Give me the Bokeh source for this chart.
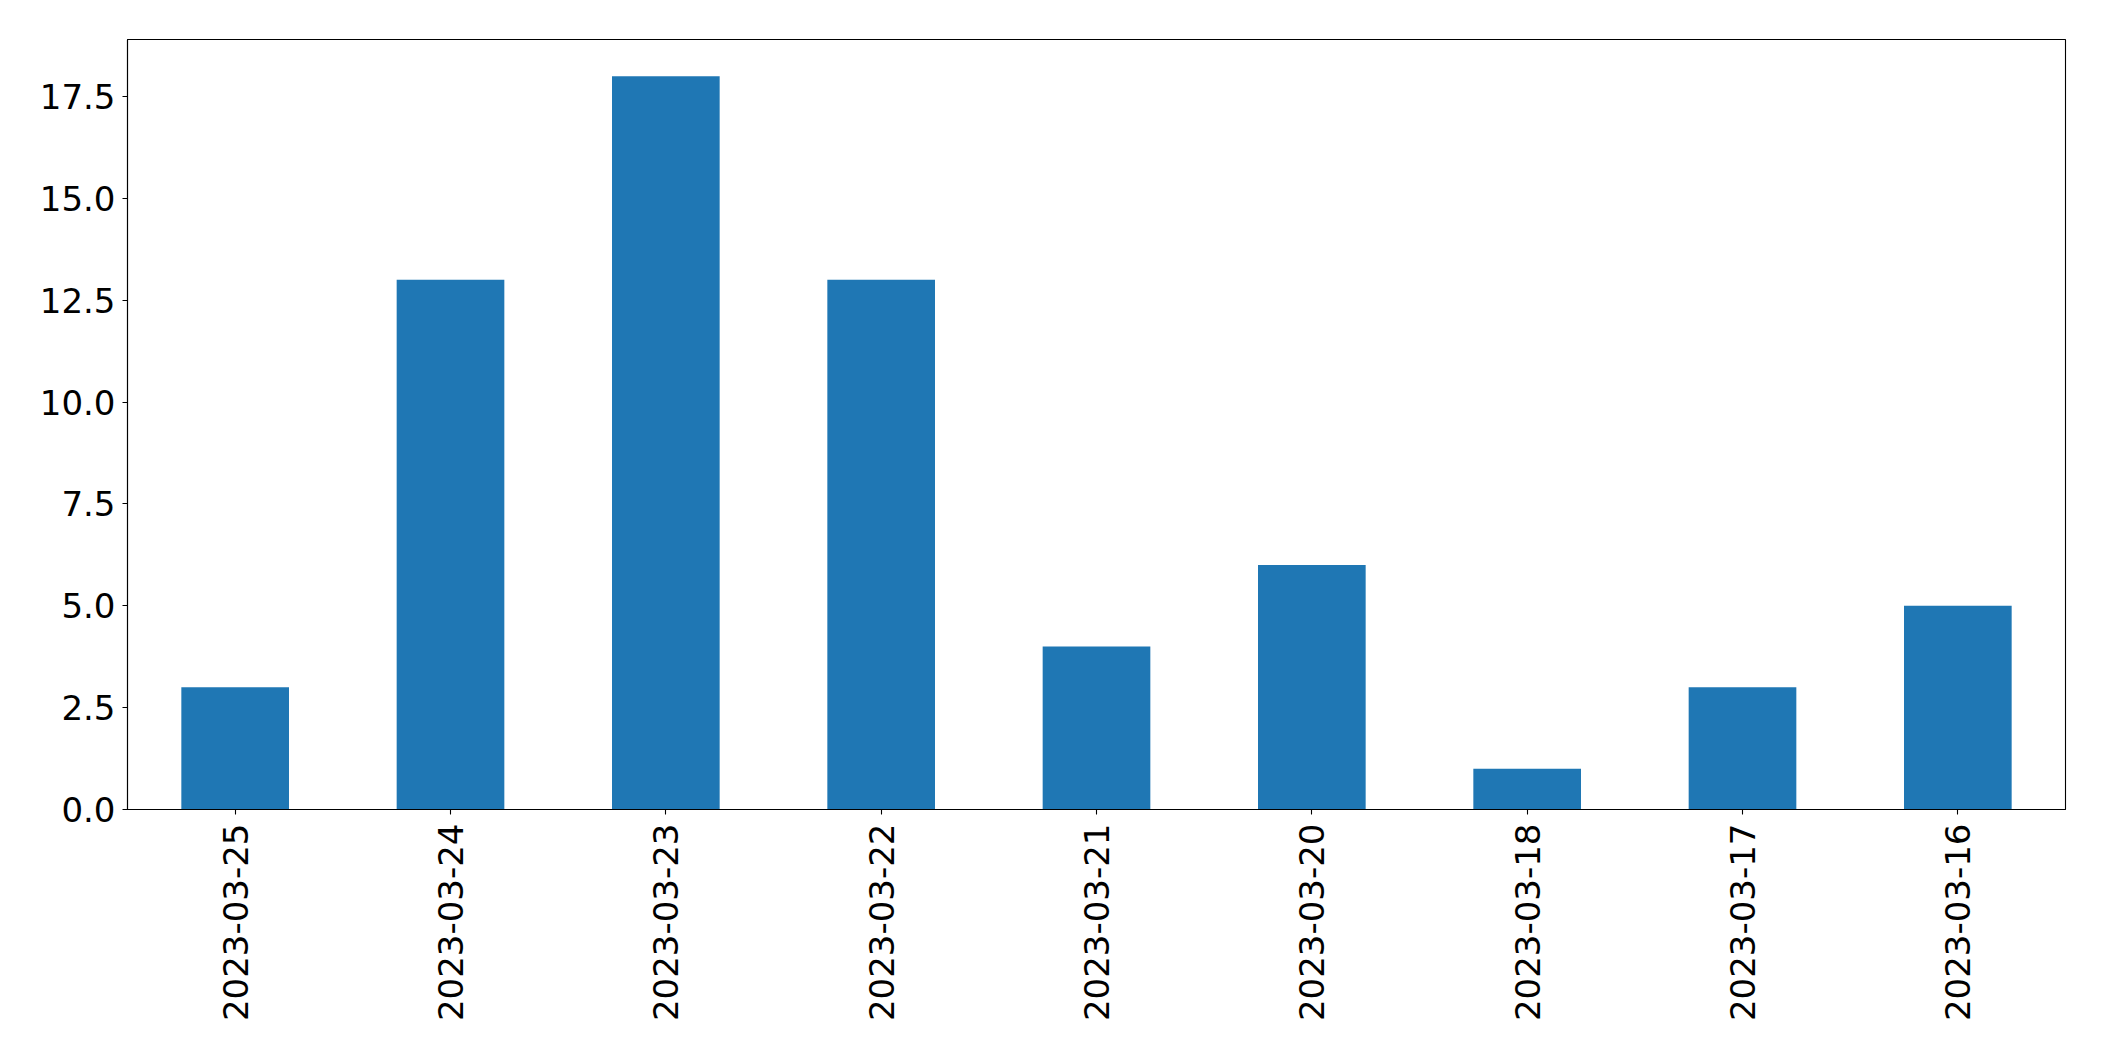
from bokeh.plotting import figure
from bokeh.models import FactorRange, Range1d, FixedTicker, PrintfTickFormatter, ColumnDataSource
from bokeh.embed import file_html
from bokeh.resources import INLINE
import math

dates = ["2023-03-25", "2023-03-24", "2023-03-23", "2023-03-22", "2023-03-21",
         "2023-03-20", "2023-03-18", "2023-03-17", "2023-03-16"]
counts = [3, 13, 18, 13, 4, 6, 1, 3, 5]
y_ticks = [0.0, 2.5, 5.0, 7.5, 10.0, 12.5, 15.0, 17.5]

source = ColumnDataSource(data=dict(date=dates, count=counts))

p = figure(
    x_range=FactorRange(*dates),
    y_range=Range1d(0, max(counts) * 1.05),
    frame_width=1938, frame_height=770,
    min_border_left=127, min_border_top=39, min_border_right=22, min_border_bottom=214,
    output_backend="svg", toolbar_location=None,
)
p.vbar(x="date", top="count", width=0.5, source=source, color="#1f77b4", line_color=None)

p.xgrid.visible = False
p.ygrid.visible = False
p.outline_line_color = "black"
p.outline_line_width = 1.1
p.outline_line_alpha = 1.0

for ax in (p.xaxis, p.yaxis):
    ax.axis_line_color = "black"
    ax.axis_line_width = 1.1
    ax.major_tick_line_color = "black"
    ax.major_tick_line_width = 1.1
    ax.major_tick_out = 5
    ax.major_tick_in = 0
    ax.minor_tick_line_color = None
    ax.major_label_text_font = "DejaVu Sans"
    ax.major_label_text_font_size = "34px"
    ax.major_label_text_color = "black"

p.xaxis.major_label_standoff = 9
p.yaxis.major_label_standoff = 7
p.xaxis.major_label_orientation = math.pi / 2
p.yaxis.ticker = FixedTicker(ticks=y_ticks)
p.yaxis.formatter = PrintfTickFormatter(format="%.1f")

open("out.html", "w").write(file_html(p, INLINE))
